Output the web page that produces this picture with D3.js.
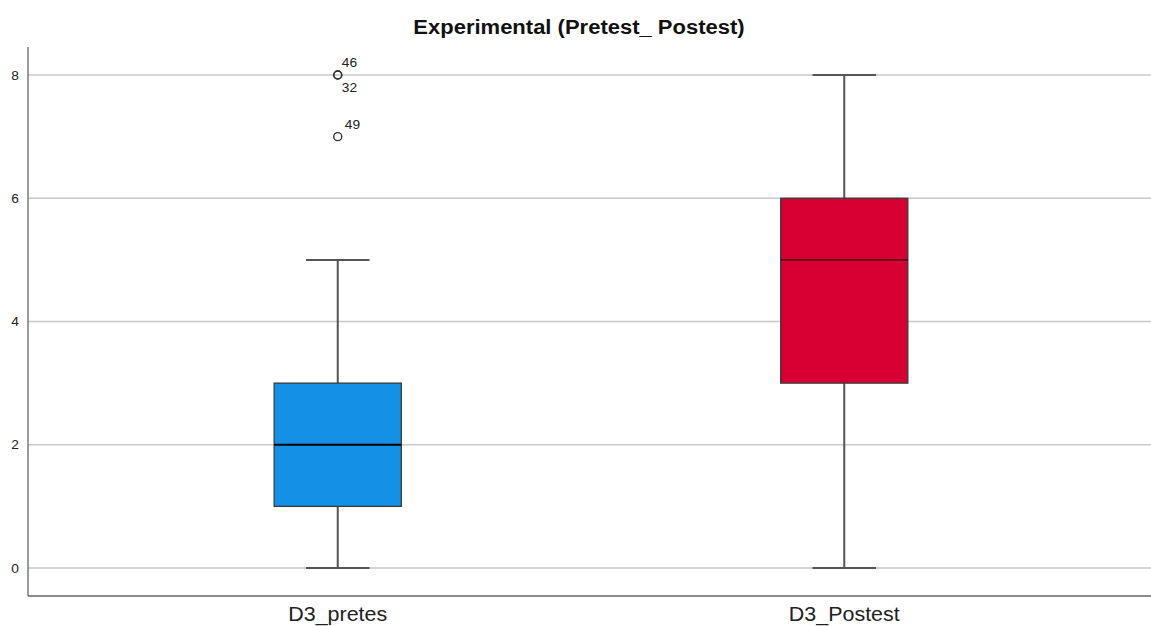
<!DOCTYPE html>
<html><head><meta charset="utf-8">
<script src="https://cdn.jsdelivr.net/npm/d3@7"></script>
<style>body{margin:0;background:#fff;} svg{display:block;font-family:Arial,"Liberation Sans",sans-serif;}</style>
</head><body>
<script>
const title = "Experimental (Pretest_ Postest)";
const categories = ["D3_pretes", "D3_Postest"];
const whiskerLow = [0, 0];
const q1 = [1, 3];
const median = [2, 5];
const q3 = [3, 6];
const whiskerHigh = [5, 8];
const boxColors = ["#1490e6", "#d70032"];
const medianColors = ["#000000", "#5a0010"];
const outlierCat = ["D3_pretes", "D3_pretes", "D3_pretes"];
const outlierValue = [8, 8, 7];
const outlierLabel = ["46", "32", "49"];
const outlierLabelPos = ["above", "below", "above"];
const yTicks = [0, 2, 4, 6, 8];

const W = 1151, H = 626;
const svg = d3.select("body").append("svg").attr("width", W).attr("height", H);
const mLeft = 28, mRight = 1151, mTop = 47, mBottom = 596;
const stretch = 1.1;

function widen(sel) {
  sel.each(function () {
    const w = this.getComputedTextLength();
    d3.select(this).attr("textLength", w * stretch).attr("lengthAdjust", "spacingAndGlyphs");
  });
}

const y = d3.scaleLinear().domain([0, 8]).range([568, 75]);
const x = d3.scaleBand().domain(categories).range([mLeft, 1154]).paddingInner(0.749).paddingOuter(0.486);

// gridlines
svg.append("g").selectAll("line").data(yTicks).join("line")
  .attr("x1", mLeft).attr("x2", mRight)
  .attr("y1", d => y(d)).attr("y2", d => y(d))
  .attr("stroke", "#c8c8c8").attr("stroke-width", 1.5);

// axes
const yAxis = d3.axisLeft(y).tickValues(yTicks).tickSize(0).tickPadding(9);
const gy = svg.append("g").attr("transform", `translate(${mLeft},0)`).call(yAxis);
gy.select(".domain").remove();
gy.selectAll("text").attr("font-size", 12.5).attr("fill", "#222").attr("font-family", "Arial, Liberation Sans, sans-serif").call(widen);
svg.append("line").attr("x1", mLeft).attr("x2", mLeft).attr("y1", mTop).attr("y2", mBottom)
  .attr("stroke", "#666").attr("stroke-width", 1.3);
svg.append("line").attr("x1", mLeft).attr("x2", mRight).attr("y1", mBottom).attr("y2", mBottom)
  .attr("stroke", "#666").attr("stroke-width", 1.3);

const xAxis = d3.axisBottom(x).tickSize(0).tickPadding(11);
const gx = svg.append("g").attr("transform", `translate(0,${mBottom})`).call(xAxis);
gx.select(".domain").remove();
gx.selectAll("text").attr("font-size", 19.5).attr("fill", "#222").attr("font-family", "Arial, Liberation Sans, sans-serif").call(widen);

// title
svg.append("text").attr("x", 579).attr("y", 34).attr("text-anchor", "middle")
  .attr("font-weight", "bold").attr("font-size", 20).attr("fill", "#111").text(title).call(widen);

const bw = x.bandwidth();
categories.forEach((c, i) => {
  const cx = x(c) + bw / 2;
  const g = svg.append("g");
  g.append("line").attr("x1", cx).attr("x2", cx).attr("y1", y(whiskerHigh[i])).attr("y2", y(q3[i]))
    .attr("stroke", "#555").attr("stroke-width", 2);
  g.append("line").attr("x1", cx).attr("x2", cx).attr("y1", y(q1[i])).attr("y2", y(whiskerLow[i]))
    .attr("stroke", "#555").attr("stroke-width", 2);
  [whiskerHigh[i], whiskerLow[i]].forEach(v => {
    g.append("line").attr("x1", cx - bw / 4).attr("x2", cx + bw / 4).attr("y1", y(v)).attr("y2", y(v))
      .attr("stroke", "#555").attr("stroke-width", 2);
  });
  g.append("rect").attr("x", x(c)).attr("width", bw)
    .attr("y", y(q3[i])).attr("height", y(q1[i]) - y(q3[i]))
    .attr("fill", boxColors[i]).attr("stroke", "#3a3a3a").attr("stroke-width", 1.3);
  g.append("line").attr("x1", x(c)).attr("x2", x(c) + bw).attr("y1", y(median[i])).attr("y2", y(median[i]))
    .attr("stroke", medianColors[i]).attr("stroke-width", i === 0 ? 2.2 : 1.6);
});

// outliers
outlierValue.forEach((v, i) => {
  const cx = x(outlierCat[i]) + bw / 2;
  svg.append("circle").attr("cx", cx).attr("cy", y(v)).attr("r", 4)
    .attr("fill", "none").attr("stroke", "#333").attr("stroke-width", 1.4);
  const above = outlierLabelPos[i] === "above";
  svg.append("text").attr("x", cx + (above && v === 7 ? 7 : 4)).attr("y", y(v) + (above ? -8 : 17))
    .attr("font-size", 12.5).attr("fill", "#222").text(outlierLabel[i]).call(widen);
});
</script>
</body></html>
